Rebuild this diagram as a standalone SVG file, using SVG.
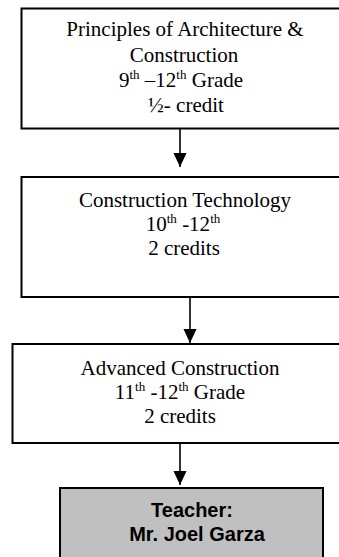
<svg xmlns="http://www.w3.org/2000/svg" width="339" height="557" viewBox="0 0 339 557">
<style>
.box{fill:#ffffff;stroke:#000000;stroke-width:2}
.tbox{fill:#c0c0c0;stroke:#000000;stroke-width:2}
.t{font-family:"Liberation Serif","Times New Roman",serif;font-size:21px;fill:#000;text-anchor:middle}
.b{font-family:"Liberation Sans",Arial,sans-serif;font-size:20px;font-weight:bold;fill:#000;text-anchor:middle}
.sup{font-size:13px}
.c{stroke:#000;stroke-width:1.6;fill:none;marker-end:url(#ah)}
</style>
<defs>
<marker id="ah" markerUnits="userSpaceOnUse" markerWidth="14" markerHeight="15" refX="15" refY="7" orient="auto" viewBox="0 0 15 14">
<path d="M0,0 L15,7 L0,14 z" fill="#000"/>
</marker>
</defs>
<g id="connectors">
<line class="c" x1="180" y1="128" x2="180" y2="167"/>
<line class="c" x1="190" y1="297" x2="190" y2="343"/>
<line class="c" x1="180" y1="443" x2="180" y2="485"/>
</g>
<g id="node1">
<rect class="box" x="21.5" y="8.5" width="330" height="120"/>
<text class="t" x="185" y="36">Principles of Architecture &amp;</text>
<text class="t" x="184" y="62">Construction</text>
<text class="t" x="181" y="87">9<tspan class="sup" dy="-8">th</tspan><tspan dy="8"> –12</tspan><tspan class="sup" dy="-8">th</tspan><tspan dy="8"> Grade</tspan></text>
<text class="t" x="186" y="112">½- credit</text>
</g>
<g id="node2">
<rect class="box" x="21.5" y="177" width="330" height="120"/>
<text class="t" x="185" y="207">Construction Technology</text>
<text class="t" x="183" y="231">10<tspan class="sup" dy="-8">th</tspan><tspan dy="8"> -12</tspan><tspan class="sup" dy="-8">th</tspan></text>
<text class="t" x="184" y="255">2 credits</text>
</g>
<g id="node3">
<rect class="box" x="12.5" y="344" width="340" height="99"/>
<text class="t" x="180" y="375">Advanced Construction</text>
<text class="t" x="180" y="399">11<tspan class="sup" dy="-8">th</tspan><tspan dy="8"> -12</tspan><tspan class="sup" dy="-8">th</tspan><tspan dy="8"> Grade</tspan></text>
<text class="t" x="180" y="423">2 credits</text>
</g>
<g id="node4">
<rect class="tbox" x="60" y="488" width="263" height="80"/>
<text class="b" x="192" y="517">Teacher:</text>
<text class="b" x="197" y="541">Mr. Joel Garza</text>
</g>
</svg>
